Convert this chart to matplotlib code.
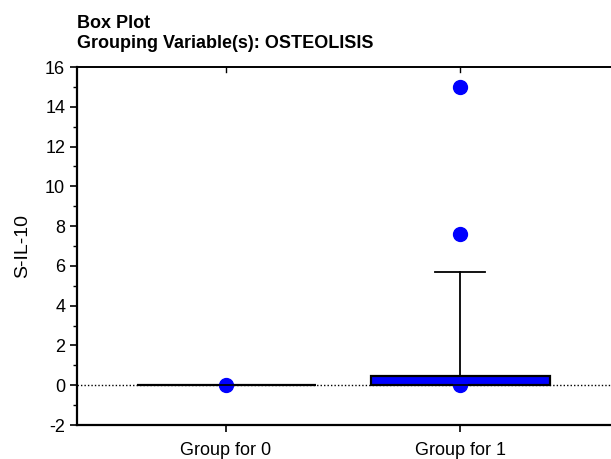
import numpy as np
import matplotlib.pyplot as plt
from matplotlib.ticker import MultipleLocator

plt.rcParams['font.family'] = ['Liberation Sans', 'DejaVu Sans']
plt.rcParams['axes.unicode_minus'] = False

groups = ["Group for 0", "Group for 1"]
q1 = [0.0, 0.0]
median = [0.0, 0.0]
q3 = [0.0, 0.45]
whis_lo = [0.0, 0.0]
whis_hi = [0.0, 5.7]
points = [[0.0], [0.0, 7.6, 15.0]]

stats = []
for i, name in enumerate(groups):
    stats.append(dict(label=name, q1=q1[i], med=median[i], q3=q3[i],
                      whislo=whis_lo[i], whishi=whis_hi[i], fliers=points[i]))

fig = plt.figure(figsize=(6.11, 4.59), dpi=100)
ax = fig.add_axes([77/611, 1 - 425/459, 1 - 77/611, (425 - 67)/459])

pos = np.arange(len(groups))
ax.axhline(0, color='black', ls=(0, (1, 1.5)), lw=1.0, zorder=1)
ax.bxp(stats, positions=pos, widths=0.765, capwidths=0.21, patch_artist=True,
       boxprops=dict(facecolor='#0000ff', edgecolor='black', lw=1.6),
       medianprops=dict(color='black', lw=1.2),
       whiskerprops=dict(color='black', lw=1.3),
       capprops=dict(color='black', lw=1.3),
       flierprops=dict(marker='o', markersize=10, markerfacecolor='#0000ff',
                       markeredgecolor='#0000ff'),
       zorder=3)

ax.set_xlim(-0.637, 1.645)
ax.set_ylim(-2, 16)
ax.set_xticks(pos)
ax.set_xticklabels(groups, fontsize=13)
ax.yaxis.set_major_locator(MultipleLocator(2))
ax.yaxis.set_minor_locator(MultipleLocator(1))
ax.tick_params(axis='y', labelsize=13, length=5, width=1.2, direction='out')
ax.tick_params(axis='y', which='minor', length=3, width=1.0)
ax.tick_params(axis='x', length=5, width=1.2, direction='out', pad=7)

for side in ['left', 'bottom']:
    ax.spines[side].set_linewidth(1.6)
ax.spines['top'].set_linewidth(1.4)
ax.spines['right'].set_visible(False)

# inward tick marks on the top spine
for p in pos:
    ax.plot([p, p], [16, 15.75], color='black', lw=1.0, clip_on=False)

ax.set_ylabel("S-IL-10", fontsize=14, labelpad=10)
fig.text(77/611, 1 - 28/459, "Box Plot", fontsize=13, fontweight='bold', va='baseline')
fig.text(77/611, 1 - 48/459, "Grouping Variable(s): OSTEOLISIS", fontsize=13,
         fontweight='bold', va='baseline')

fig.savefig("out.png", dpi=100)
